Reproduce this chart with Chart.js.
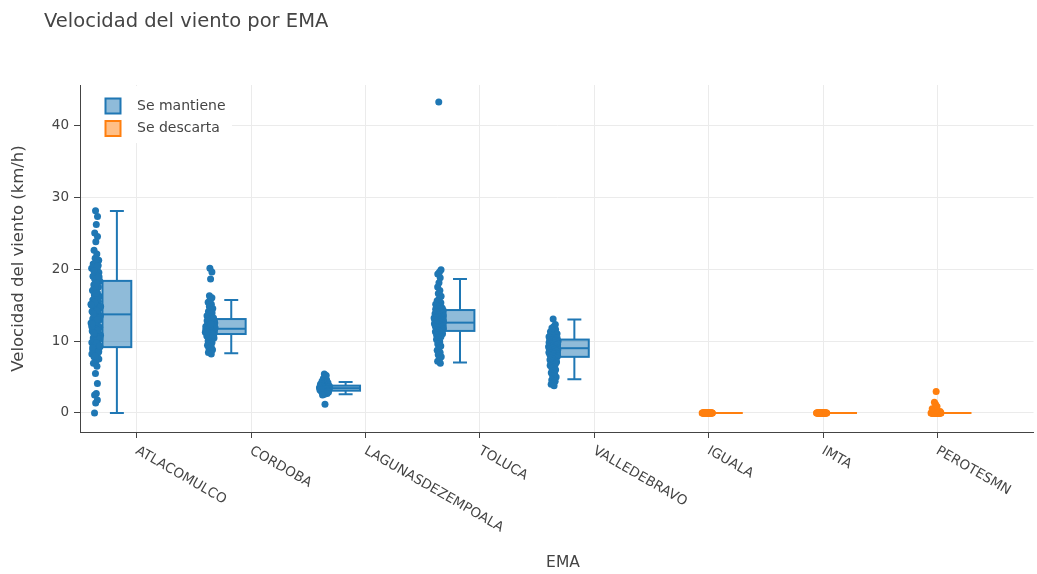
<!DOCTYPE html>
<html lang="es">
<head>
<meta charset="utf-8">
<title>Velocidad del viento por EMA</title>
<script src="https://cdn.jsdelivr.net/npm/chart.js@4.4.1/dist/chart.umd.min.js"></script>
<style>
  html, body { margin: 0; padding: 0; background: #fff; }
  #wrap { width: 1037px; height: 574px; position: relative; }
</style>
</head>
<body>
<div id="wrap"><canvas id="grafica" width="1037" height="574"></canvas></div>
<script>
// Estaciones (EMA) en el orden del eje x
const categorias = ['ATLACOMULCO', 'CORDOBA', 'LAGUNASDEZEMPOALA', 'TOLUCA', 'VALLEDEBRAVO', 'IGUALA', 'IMTA', 'PEROTESMN'];
// Serie a la que pertenece cada estación
const serieDeEstacion = ['Se mantiene', 'Se mantiene', 'Se mantiene', 'Se mantiene', 'Se mantiene', 'Se descarta', 'Se descarta', 'Se descarta'];
const series = ['Se mantiene', 'Se descarta'];

// Velocidad del viento (km/h) registrada en cada estación
const vientoAtlacomulco = [28.1, 27.3, 26.2, 25.0, 24.5, 23.8, 22.6, 22.1, 21.5, 21.2, 20.9, 20.7, 20.5, 20.3, 20.1, 19.9, 19.7, 19.5, 19.2, 19.0, 18.8, 18.6, 18.3, 18.0, 17.8, 17.5, 17.2, 17.0, 16.7, 16.4, 16.2, 15.9, 15.7, 15.5, 15.3, 15.1, 14.9, 14.7, 14.5, 14.3, 14.1, 13.9, 13.7, 13.5, 13.3, 13.1, 12.9, 12.7, 12.5, 12.3, 12.1, 11.9, 11.7, 11.4, 11.2, 11.0, 10.8, 10.6, 10.4, 10.2, 10.0, 9.8, 9.6, 9.4, 9.2, 9.0, 8.8, 8.6, 8.4, 8.2, 8.0, 7.8, 7.5, 7.2, 6.9, 6.5, 5.5, 4.1, 2.7, 2.5, 1.8, 1.4, 0.0, 20.4, 19.8, 18.9, 18.1, 17.1, 16.0, 15.4, 14.8, 14.2, 13.8, 13.2, 12.6, 12.0, 11.5, 10.9, 10.3, 9.7, 9.1, 8.5, 7.9, 15.0, 13.0, 11.1, 9.3, 16.6, 12.4];
const vientoCordoba = [20.1, 19.6, 18.6, 16.3, 16.0, 15.7, 15.4, 15.1, 14.8, 14.5, 14.3, 14.1, 13.9, 13.7, 13.5, 13.3, 13.1, 13.0, 12.9, 12.8, 12.7, 12.6, 12.5, 12.4, 12.3, 12.2, 12.1, 12.0, 11.9, 11.8, 11.7, 11.6, 11.5, 11.4, 11.3, 11.2, 11.1, 11.0, 10.9, 10.8, 10.7, 10.6, 10.5, 10.4, 10.2, 10.0, 9.8, 9.6, 9.4, 9.2, 9.0, 8.8, 8.6, 8.4, 8.2, 12.2, 11.8, 11.5, 11.2, 12.6, 12.0, 11.6, 11.0, 10.6, 13.2, 12.4, 11.3, 10.8];
const vientoLagunas = [5.4, 5.2, 5.0, 4.8, 4.6, 4.5, 4.4, 4.3, 4.2, 4.2, 4.1, 4.1, 4.0, 4.0, 4.0, 3.9, 3.9, 3.9, 3.8, 3.8, 3.8, 3.8, 3.7, 3.7, 3.7, 3.7, 3.6, 3.6, 3.6, 3.6, 3.6, 3.5, 3.5, 3.5, 3.5, 3.5, 3.4, 3.4, 3.4, 3.4, 3.4, 3.3, 3.3, 3.3, 3.3, 3.2, 3.2, 3.2, 3.2, 3.1, 3.1, 3.1, 3.0, 3.0, 3.0, 2.9, 2.9, 2.8, 2.8, 2.7, 2.6, 2.5, 1.2];
const vientoToluca = [43.2, 19.9, 19.6, 19.3, 18.8, 18.1, 17.5, 17.0, 16.6, 16.2, 15.9, 15.6, 15.3, 15.0, 15.1, 14.8, 14.9, 14.6, 14.7, 14.4, 14.5, 14.2, 14.3, 14.1, 14.0, 13.9, 13.8, 13.8, 13.7, 13.6, 13.5, 13.6, 13.4, 13.3, 13.4, 13.2, 13.1, 13.2, 13.0, 13.0, 12.9, 12.8, 12.8, 12.7, 12.6, 12.6, 12.5, 12.4, 12.4, 12.3, 12.2, 12.1, 12.0, 12.0, 11.9, 11.8, 11.7, 11.6, 11.6, 11.5, 11.4, 11.3, 11.2, 11.1, 11.0, 10.9, 10.8, 10.6, 10.5, 10.2, 9.9, 9.6, 9.3, 9.0, 8.7, 8.4, 8.1, 7.8, 7.5, 7.2, 6.9];
const vientoValle = [13.05, 12.3, 12.0, 11.8, 11.6, 11.4, 11.3, 11.2, 11.1, 11.0, 10.9, 10.8, 10.8, 10.7, 10.6, 10.5, 10.4, 10.4, 10.3, 10.2, 10.2, 10.1, 10.0, 10.0, 9.9, 9.9, 9.8, 9.8, 9.7, 9.6, 9.6, 9.5, 9.4, 9.4, 9.3, 9.2, 9.2, 9.1, 9.0, 9.0, 8.9, 8.9, 8.8, 8.8, 8.7, 8.6, 8.6, 8.5, 8.4, 8.4, 8.3, 8.2, 8.2, 8.1, 8.0, 8.0, 7.9, 7.8, 7.7, 7.6, 7.5, 7.4, 7.3, 7.2, 7.1, 7.0, 6.9, 6.8, 6.7, 6.6, 6.4, 6.2, 6.0, 5.8, 5.6, 5.4, 5.2, 5.0, 4.8, 4.6, 4.4, 4.2, 4.0, 3.8];
const vientoIguala = [0, 0, 0, 0, 0, 0, 0, 0, 0, 0, 0, 0, 0, 0, 0, 0, 0, 0, 0, 0, 0, 0, 0, 0, 0, 0, 0, 0, 0, 0];
const vientoImta = [0, 0, 0, 0, 0, 0, 0, 0, 0, 0, 0, 0, 0, 0, 0, 0, 0, 0, 0, 0, 0, 0, 0, 0, 0, 0, 0, 0, 0, 0];
const vientoPerote = [0, 0, 0, 0, 0, 0, 0, 0, 0, 0, 0, 0, 0, 0, 0, 0, 0, 0, 0, 0, 0, 0, 0, 0, 0, 0, 0, 0, 0, 0, 0.2, 0.4, 0.6, 0.9, 1.2, 1.5, 3.0];
const vientoPorEstacion = [vientoAtlacomulco, vientoCordoba, vientoLagunas, vientoToluca, vientoValle, vientoIguala, vientoImta, vientoPerote];

// Resumen de cada caja: bigotes, cuartiles y mediana (km/h)
const bigoteInferior = [0.0, 8.3, 2.6, 7.0, 4.7, 0, 0, 0];
const cuartil1 = [9.15, 10.97, 3.1, 11.4, 7.8, 0, 0, 0];
const mediana = [13.7, 11.7, 3.45, 12.55, 9.0, 0, 0, 0];
const cuartil3 = [18.35, 13.05, 3.8, 14.3, 10.2, 0, 0, 0];
const bigoteSuperior = [28.05, 15.7, 4.3, 18.6, 13.0, 0, 0, 0];

// Marcas del eje y
const marcasY = [0, 10, 20, 30, 40];

const colores = { 'Se mantiene': '#1f77b4', 'Se descarta': '#ff7f0e' };
const rellenos = { 'Se mantiene': 'rgba(31,119,180,0.5)', 'Se descarta': 'rgba(255,127,14,0.5)' };
// Desplazamiento de cada serie dentro de su categoría (cajas agrupadas)
const desplazamientoCaja = { 'Se mantiene': -0.1745, 'Se descarta': 0.17 };
const medioAnchoCaja = 0.126;
const medioAnchoTope = 0.061;
const separacionPuntos = 0.183;
const amplitudDispersion = 0.046;
const TEXTO = '#444';
const FUENTE = "'DejaVu Sans', Verdana, sans-serif";

// Dispersión horizontal determinista: más ancha donde hay más puntos
function dispersion(valores) {
  const banda = 0.6;
  const cuentas = valores.map(v => valores.filter(w => Math.abs(w - v) <= banda).length);
  const maximo = Math.max(...cuentas);
  return valores.map((v, k) => {
    const f = Math.sqrt(cuentas[k] / maximo);
    const s = ((k * 0.6180339887 + 0.37) % 1) * 2 - 1;
    return amplitudDispersion * f * s;
  });
}

function puntosDeSerie(serie) {
  const pts = [];
  categorias.forEach((cat, i) => {
    if (serieDeEstacion[i] !== serie) return;
    const valores = vientoPorEstacion[i];
    const desv = dispersion(valores);
    const centro = i + desplazamientoCaja[serie] - separacionPuntos;
    valores.forEach((v, k) => pts.push({ x: centro + desv[k], y: v }));
  });
  return pts;
}

// Cajas y bigotes dibujados con las escalas de la gráfica
const cajasPlugin = {
  id: 'cajas',
  beforeDatasetsDraw(chart) {
    const { ctx, scales: { x, y }, chartArea } = chart;
    // fondo de la leyenda
    ctx.save();
    ctx.fillStyle = '#fff';
    ctx.fillRect(chartArea.left + 1, chartArea.top + 1, 151, 57);
    ctx.restore();

    categorias.forEach((cat, i) => {
      const serie = serieDeEstacion[i];
      const c = i + desplazamientoCaja[serie];
      const xl = x.getPixelForValue(c - medioAnchoCaja);
      const xr = x.getPixelForValue(c + medioAnchoCaja);
      const xc = x.getPixelForValue(c);
      const tl = x.getPixelForValue(c - medioAnchoTope);
      const tr = x.getPixelForValue(c + medioAnchoTope);
      const yQ1 = y.getPixelForValue(cuartil1[i]);
      const yQ3 = y.getPixelForValue(cuartil3[i]);
      const yMed = y.getPixelForValue(mediana[i]);
      const yLo = y.getPixelForValue(bigoteInferior[i]);
      const yHi = y.getPixelForValue(bigoteSuperior[i]);
      ctx.save();
      ctx.strokeStyle = colores[serie];
      ctx.lineWidth = 2;
      ctx.lineJoin = 'miter';
      // bigotes
      ctx.beginPath();
      ctx.moveTo(xc, yQ3); ctx.lineTo(xc, yHi);
      ctx.moveTo(tl, yHi); ctx.lineTo(tr, yHi);
      ctx.moveTo(xc, yQ1); ctx.lineTo(xc, yLo);
      ctx.moveTo(tl, yLo); ctx.lineTo(tr, yLo);
      ctx.stroke();
      // caja
      ctx.fillStyle = rellenos[serie];
      ctx.fillRect(xl, yQ3, xr - xl, yQ1 - yQ3);
      ctx.strokeRect(xl, yQ3, xr - xl, yQ1 - yQ3);
      // mediana
      ctx.beginPath();
      ctx.moveTo(xl, yMed); ctx.lineTo(xr, yMed);
      ctx.stroke();
      ctx.restore();
    });
  },
  afterDraw(chart) {
    const { ctx, scales: { x }, chartArea } = chart;
    ctx.save();
    ctx.fillStyle = TEXTO;
    // título
    ctx.font = `19.5px ${FUENTE}`;
    ctx.textAlign = 'left';
    ctx.textBaseline = 'alphabetic';
    ctx.fillText('Velocidad del viento por EMA', 44, 27);
    // etiquetas del eje x, giradas
    ctx.font = `13.5px ${FUENTE}`;
    categorias.forEach((cat, i) => {
      const px = x.getPixelForValue(i);
      ctx.save();
      ctx.translate(px + 3, chartArea.bottom + 12);
      ctx.rotate(Math.PI / 6);
      ctx.textAlign = 'left';
      ctx.textBaseline = 'top';
      ctx.fillText(cat, 0, 0);
      ctx.restore();
    });
    // títulos de los ejes
    ctx.font = `15.5px ${FUENTE}`;
    ctx.textAlign = 'center';
    ctx.textBaseline = 'middle';
    ctx.fillText('EMA', 563, 563);
    ctx.font = `16.5px ${FUENTE}`;
    ctx.save();
    ctx.translate(19, (chartArea.top + chartArea.bottom) / 2);
    ctx.rotate(-Math.PI / 2);
    ctx.fillText('Velocidad del viento (km/h)', 0, 0);
    ctx.restore();
    // leyenda
    ctx.font = `14px ${FUENTE}`;
    ctx.textAlign = 'left';
    series.forEach((s, k) => {
      const cy = chartArea.top + 21 + k * 22.5;
      ctx.fillStyle = rellenos[s];
      ctx.fillRect(105.5, cy - 7.5, 15, 15);
      ctx.strokeStyle = colores[s];
      ctx.lineWidth = 2;
      ctx.strokeRect(105.5, cy - 7.5, 15, 15);
      ctx.fillStyle = TEXTO;
      ctx.fillText(s, 137, cy);
    });
    ctx.restore();
  }
};

const fondoPlugin = {
  id: 'fondo',
  beforeDraw(chart) {
    const ctx = chart.ctx;
    ctx.save();
    ctx.fillStyle = '#fff';
    ctx.fillRect(0, 0, chart.width, chart.height);
    ctx.restore();
  }
};

new Chart(document.getElementById('grafica'), {
  type: 'scatter',
  data: {
    datasets: series.map(s => ({
      label: s,
      data: puntosDeSerie(s),
      pointRadius: 3.5,
      pointHoverRadius: 3.5,
      pointBackgroundColor: colores[s],
      pointBorderWidth: 0,
      borderColor: colores[s]
    }))
  },
  options: {
    responsive: false,
    devicePixelRatio: 1,
    animation: false,
    events: [],
    layout: { padding: { top: 85, right: 1, left: 0, bottom: 0 } },
    plugins: {
      legend: { display: false },
      title: { display: false },
      tooltip: { enabled: false }
    },
    scales: {
      x: {
        type: 'linear',
        position: 'bottom',
        min: -0.497,
        max: 7.84,
        afterBuildTicks(scale) { scale.ticks = categorias.map((c, i) => ({ value: i })); },
        afterFit(scale) { scale.height = 142; },
        ticks: { display: false },
        grid: { color: '#ebebeb', lineWidth: 1, tickColor: '#444', tickLength: 6, drawTicks: true },
        border: { display: true, color: '#444', width: 1 }
      },
      y: {
        type: 'linear',
        min: -2.64,
        max: 45.56,
        afterBuildTicks(scale) { scale.ticks = marcasY.map(v => ({ value: v })); },
        afterFit(scale) { scale.width = 80; },
        ticks: {
          color: TEXTO,
          font: { family: FUENTE, size: 13.5 },
          padding: 5,
          callback: v => String(v)
        },
        grid: { color: '#ebebeb', lineWidth: 1, tickColor: '#444', tickLength: 6 },
        border: { display: true, color: '#444', width: 1 }
      }
    }
  },
  plugins: [fondoPlugin, cajasPlugin]
});
</script>
</body>
</html>
